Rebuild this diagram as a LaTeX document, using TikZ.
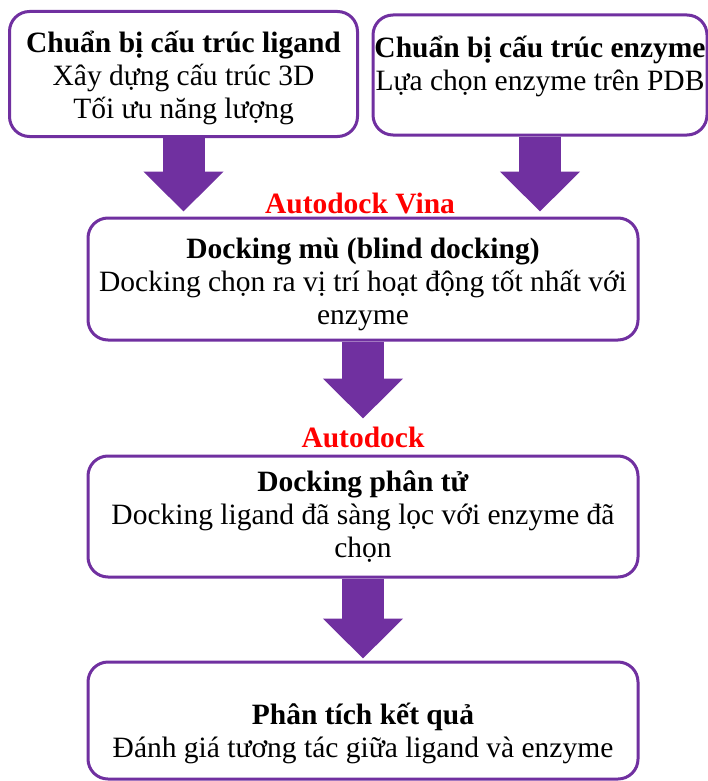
\documentclass[tikz,border=0pt]{standalone}
\usepackage{fontspec}
\setmainfont{Liberation Serif}
\usepackage{xcolor}
\usetikzlibrary{arrows.meta,calc}
\definecolor{vpurple}{HTML}{7030A0}

\begin{document}
\begin{tikzpicture}[x=1pt,y=-1pt,
    box/.style={draw=vpurple, line width=3pt, rounded corners=20pt, fill=white,
        align=center, inner sep=0pt, font=\fontsize{29.5}{33}\selectfont},
    bigarrow/.style={draw=vpurple, line width=42pt,
        -{Triangle[width=78pt,length=40pt]}},
    tool/.style={text=red, font=\fontsize{29.5}{33}\selectfont\bfseries, inner sep=0pt}]
    \useasboundingbox (0,0) rectangle (708,781);

    % Ligand and enzyme preparation
    \node[box, minimum width=348pt, minimum height=125pt] (ligand) at (183.5,74)
        {\rule{0pt}{30pt}\textbf{Chuẩn bị cấu trúc ligand}\\Xây dựng cấu trúc 3D\\Tối ưu năng lượng};
    \node[box, minimum width=334pt, minimum height=120pt, text depth=24pt] (enzyme) at (540,75)
        {\textbf{Chuẩn bị cấu trúc enzyme}\\Lựa chọn enzyme trên PDB};

    % Blind docking
    \node[tool] (vina) at (360,203) {Autodock Vina};
    \node[box, minimum width=550pt, minimum height=122pt] (blind) at (363,279)
        {\rule{0pt}{32pt}\textbf{Docking mù (blind docking)}\\Docking chọn ra vị trí hoạt động tốt nhất với\\enzyme};

    % Molecular docking
    \node[tool] (adock) at (363,437) {Autodock};
    \node[box, minimum width=550pt, minimum height=121pt] (molecular) at (363,516.5)
        {\textbf{Docking phân tử}\\Docking ligand đã sàng lọc với enzyme đã\\chọn};

    % Analysis
    \node[box, minimum width=550pt, minimum height=117pt] (analysis) at (363,720.5)
        {\rule{0pt}{47pt}\textbf{Phân tích kết quả}\\Đánh giá tương tác giữa ligand và enzyme};

    % Block arrows
    \draw[bigarrow, shorten >=5pt] (ligand.south) -- (ligand.south |- blind.north);
    \draw[bigarrow, shorten >=5pt] (enzyme.south) -- (enzyme.south |- blind.north);
    \draw[bigarrow, shorten >=36pt] (blind.south) -- (molecular.north);
    \draw[bigarrow, shorten >=2pt] (molecular.south) -- (analysis.north);
\end{tikzpicture}
\end{document}
